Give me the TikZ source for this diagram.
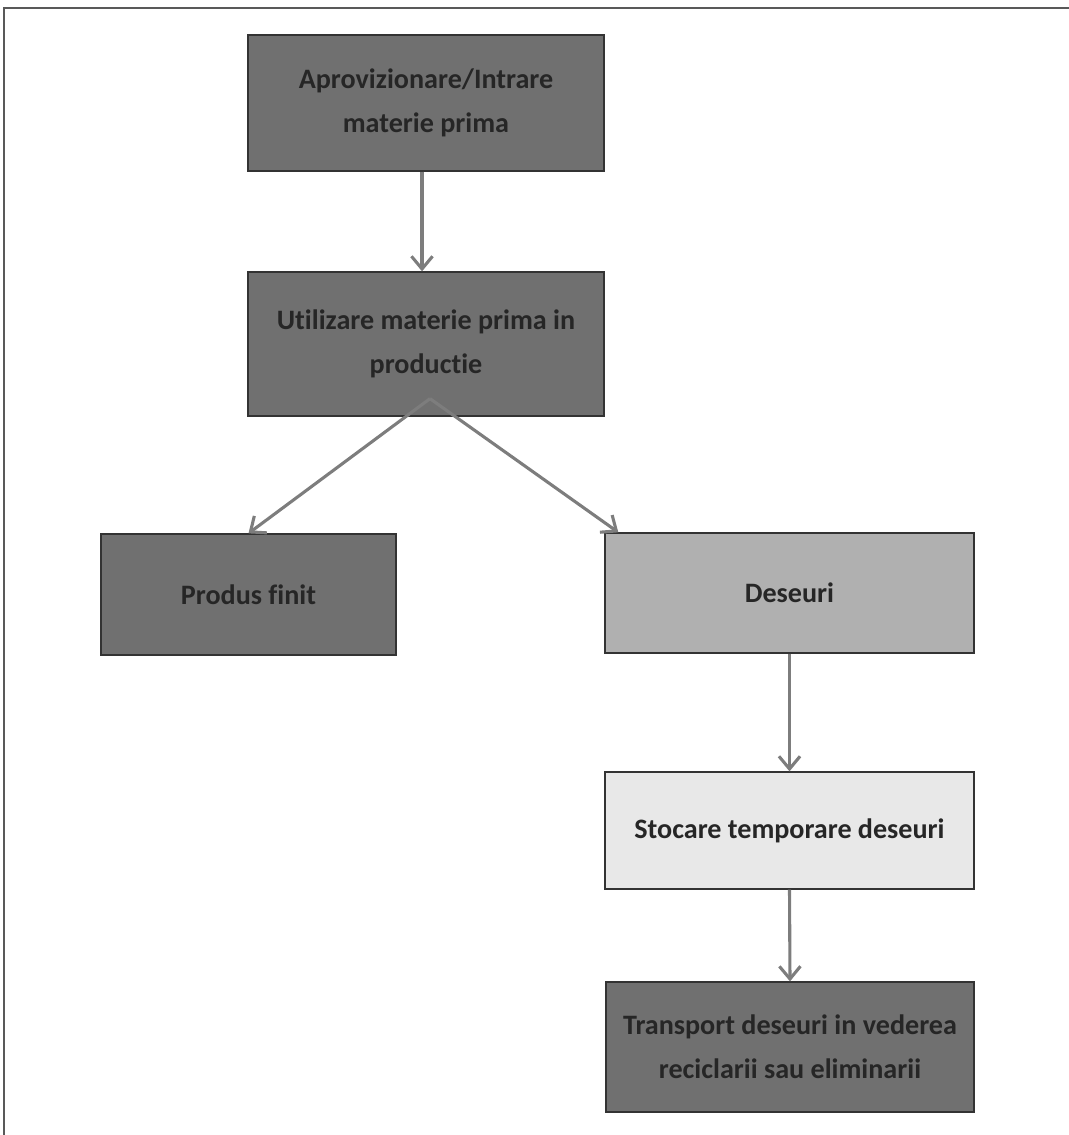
\documentclass[tikz,border=0pt]{standalone}
\usepackage{fontspec}
\setmainfont[Ligatures=NoCommon]{Carlito}
\usetikzlibrary{arrows.meta}
\definecolor{boxdark}{RGB}{112,112,112}
\definecolor{boxmid}{RGB}{176,176,176}
\definecolor{boxlight}{RGB}{232,232,232}
\definecolor{textdark}{RGB}{38,38,38}
\definecolor{arrowgray}{RGB}{125,125,125}
\begin{document}
\begin{tikzpicture}[x=0.025cm, y=-0.025cm,
    box/.style={draw=black!80, line width=0.9pt, fill=#1, text=textdark,
                font=\fontsize{20}{31}\selectfont\bfseries, align=center, inner sep=0pt},
    flow/.style={draw=arrowgray, line width=2.2pt, -{Straight Barb[length=9pt,width=15pt]}}]
\useasboundingbox (0,0) rectangle (1069,1135);
\draw[black!65, line width=1.2pt] (4,1135) -- (4,8) -- (1069,8);
\node[box=boxdark, minimum width=8.9cm, minimum height=3.4cm] (aprov) at (426,103) {Aprovizionare/Intrare\\materie prima};
\node[box=boxdark, minimum width=8.9cm, minimum height=3.6cm] (util) at (426,344) {Utilizare materie prima in\\productie};
\node[box=boxdark, minimum width=7.375cm, minimum height=3.025cm] (produs) at (248.5,594.5) {Produs finit};
\node[box=boxmid, minimum width=9.225cm, minimum height=3cm] (deseuri) at (789.5,593) {Deseuri};
\node[box=boxlight, minimum width=9.225cm, minimum height=2.925cm] (stocare) at (789.5,830.5) {Stocare temporare deseuri};
\node[box=boxdark, minimum width=9.2cm, minimum height=3.25cm] (transport) at (790,1047) {Transport deseuri in vederea\\reciclarii sau eliminarii};
\draw[flow] ([xshift=-0.1cm]aprov.south) -- ([xshift=-0.1cm]util.north);
\draw[flow] ([xshift=0.1cm,yshift=0.45cm]util.south) -- (produs.north);
\draw[flow] ([xshift=0.1cm,yshift=0.45cm]util.south) -- ([xshift=0.35cm]deseuri.north west);
\draw[flow] (deseuri.south) -- (stocare.north);
\draw[flow] (stocare.south) -- (transport.north);
\end{tikzpicture}
\end{document}
